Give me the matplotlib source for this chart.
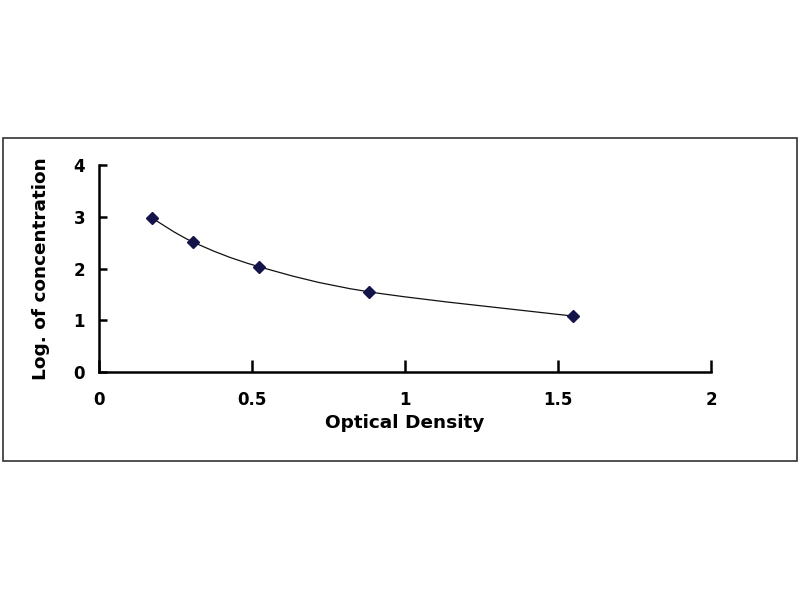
import numpy as np
import matplotlib.pyplot as plt
from matplotlib.path import Path
from matplotlib.patches import PathPatch, Rectangle

od = [0.172, 0.308, 0.523, 0.882, 1.55]
log_conc = [2.98, 2.51, 2.035, 1.55, 1.08]

x_ticks = [0, 0.5, 1, 1.5, 2]
x_tick_labels = ['0', '0.5', '1', '1.5', '2']
y_ticks = [0, 1, 2, 3, 4]


def smooth_path(xs, ys, tension=1 / 6):
    # Excel-like smoothed line: cubic bezier through the points
    pts = np.column_stack([xs, ys])
    n = len(pts)
    verts = [pts[0]]
    codes = [Path.MOVETO]
    for i in range(n - 1):
        p0 = pts[i - 1] if i > 0 else pts[i]
        p1 = pts[i]
        p2 = pts[i + 1]
        p3 = pts[i + 2] if i + 2 < n else pts[i + 1]
        c1 = p1 + (p2 - p0) * tension
        c2 = p2 - (p3 - p1) * tension
        verts += [c1, c2, p2]
        codes += [Path.CURVE4] * 3
    return Path(verts, codes)


def main():
    plt.rcParams['font.family'] = ['DejaVu Sans']
    plt.rcParams['font.weight'] = 'bold'

    fig = plt.figure(figsize=(8, 6), dpi=100)
    fig.patch.set_facecolor('white')

    # outer frame around the chart area
    fig.patches.append(Rectangle((3 / 800, 139 / 600), 794 / 800, 323 / 600,
                                 transform=fig.transFigure, fill=False,
                                 edgecolor='#333333', linewidth=1.2))

    ax = fig.add_axes([99 / 800, 228 / 600, 612 / 800, 207 / 600])

    ax.add_patch(PathPatch(smooth_path(od, log_conc), fill=False,
                           edgecolor='#111111', linewidth=0.9))
    ax.plot(od, log_conc, linestyle='none', marker='D', markersize=6.5,
            color='#14144a', clip_on=False)

    ax.set_xlim(0, 2)
    ax.set_ylim(0, 4)
    ax.set_xticks(x_ticks)
    ax.set_xticklabels(x_tick_labels)
    ax.set_yticks(y_ticks)

    for s in ['top', 'right']:
        ax.spines[s].set_visible(False)
    for s in ['left', 'bottom']:
        ax.spines[s].set_linewidth(1.8)
        ax.spines[s].set_color('black')

    ax.tick_params(axis='x', direction='in', length=9, width=1.8, pad=14,
                   labelsize=12)
    ax.tick_params(axis='y', direction='in', length=6, width=1.8, pad=10,
                   labelsize=12)

    ax.set_xlabel('Optical Density', fontsize=13.3, fontweight='bold',
                  labelpad=3)
    ax.set_ylabel('Log. of concentration', fontsize=13.3, fontweight='bold',
                  labelpad=17)

    fig.savefig('out.png', dpi=100, facecolor='white')


if __name__ == "__main__":
    main()
